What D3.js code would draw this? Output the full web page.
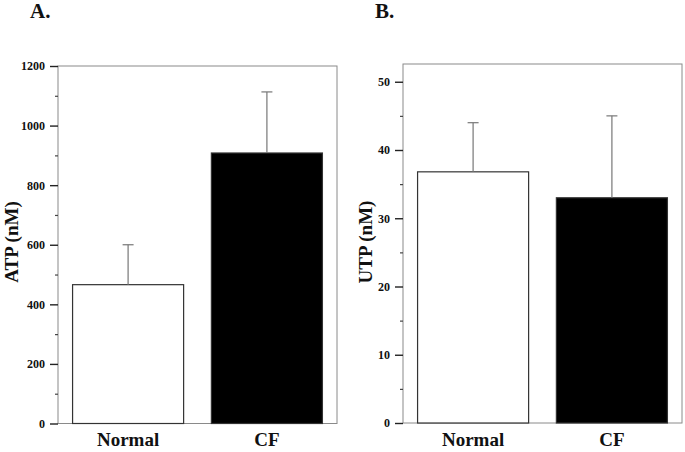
<!DOCTYPE html>
<html><head><meta charset="utf-8">
<script src="https://cdn.jsdelivr.net/npm/d3@7"></script>
<style>
body{margin:0;background:#fff;}
text{font-family:"Liberation Serif","Times New Roman","DejaVu Serif",serif;font-weight:bold;fill:#111;}
</style></head>
<body><svg id="c" width="685" height="452"></svg>
<script>
const categories = ["Normal", "CF"];
const atpValues = [466, 908];
const atpErrors = [134, 205];
const utpValues = [36.8, 33.0];
const utpErrors = [7.2, 12.0];
const atpTicks = [0, 200, 400, 600, 800, 1000, 1200];
const atpMinor = [100, 300, 500, 700, 900, 1100];
const utpTicks = [0, 10, 20, 30, 40, 50];
const utpMinor = [5, 15, 25, 35, 45];
const fills = ["#ffffff", "#000000"];

const svg = d3.select("#c");
const FONT = "'Liberation Serif','Times New Roman',serif";

function panel(o) {
  const g = svg.append("g");
  const x = d3.scaleBand().domain(categories).range([o.left, o.right]).paddingInner(0.2).paddingOuter(0.105);
  const y = d3.scaleLinear().domain(o.domain).range([o.bottom, o.top]);
  g.append("rect").attr("x", o.left).attr("y", o.top).attr("width", o.right - o.left).attr("height", o.bottom - o.top)
    .attr("fill", "none").attr("stroke", "#8a8a8a").attr("stroke-width", 1);
  g.selectAll(".bar").data(o.values).join("rect")
    .attr("x", (d, i) => x(categories[i]))
    .attr("y", d => y(d))
    .attr("width", x.bandwidth())
    .attr("height", d => y(0) - y(d))
    .attr("fill", (d, i) => fills[i])
    .attr("stroke", "#333").attr("stroke-width", 1.2);
  o.values.forEach((v, i) => {
    const cx = x(categories[i]) + x.bandwidth() / 2;
    g.append("line").attr("x1", cx).attr("x2", cx).attr("y1", y(v)).attr("y2", y(v + o.errors[i]))
      .attr("stroke", "#777").attr("stroke-width", 1.2);
    g.append("line").attr("x1", cx - 5.5).attr("x2", cx + 5.5).attr("y1", y(v + o.errors[i])).attr("y2", y(v + o.errors[i]))
      .attr("stroke", "#777").attr("stroke-width", 1.2);
  });
  const ax = d3.axisLeft(y).tickValues(o.ticks).tickSize(8).tickPadding(5).tickFormat(d3.format("d"));
  const axg = g.append("g").attr("transform", `translate(${o.left},0)`).call(ax);
  axg.attr("font-family", null).attr("font-size", null);
  axg.select(".domain").remove();
  axg.selectAll(".tick line").attr("stroke", "#222").attr("stroke-width", 1.4);
  axg.selectAll(".tick text").style("font-size", "12px").attr("fill", "#111").style("font-family", FONT).style("font-weight", "bold");
  const axm = d3.axisLeft(y).tickValues(o.minor).tickSize(3).tickFormat("");
  const amg = g.append("g").attr("transform", `translate(${o.left},0)`).call(axm);
  amg.select(".domain").remove();
  amg.selectAll(".tick line").attr("stroke", "#444").attr("stroke-width", 1.2);
  categories.forEach((c, i) => {
    g.append("text").attr("x", x(c) + x.bandwidth() / 2).attr("y", 446).attr("text-anchor", "middle")
      .style("font-size", "19px").text(c);
  });
  g.append("text").attr("transform", `translate(${o.titleX},242) rotate(-90)`)
    .attr("text-anchor", "middle").style("font-size", "19px").text(o.title);
  g.append("text").attr("x", o.labelX).attr("y", 18).style("font-size", "21px").text(o.label);
}

panel({left: 58, right: 337, top: 66, bottom: 423.5, domain: [0, 1200], values: atpValues, errors: atpErrors,
  ticks: atpTicks, minor: atpMinor, title: "ATP (nM)", titleX: 18, label: "A.", labelX: 30});
panel({left: 403, right: 682, top: 64, bottom: 423, domain: [0, 52.6], values: utpValues, errors: utpErrors,
  ticks: utpTicks, minor: utpMinor, title: "UTP (nM)", titleX: 372, label: "B.", labelX: 375});
</script></body></html>
